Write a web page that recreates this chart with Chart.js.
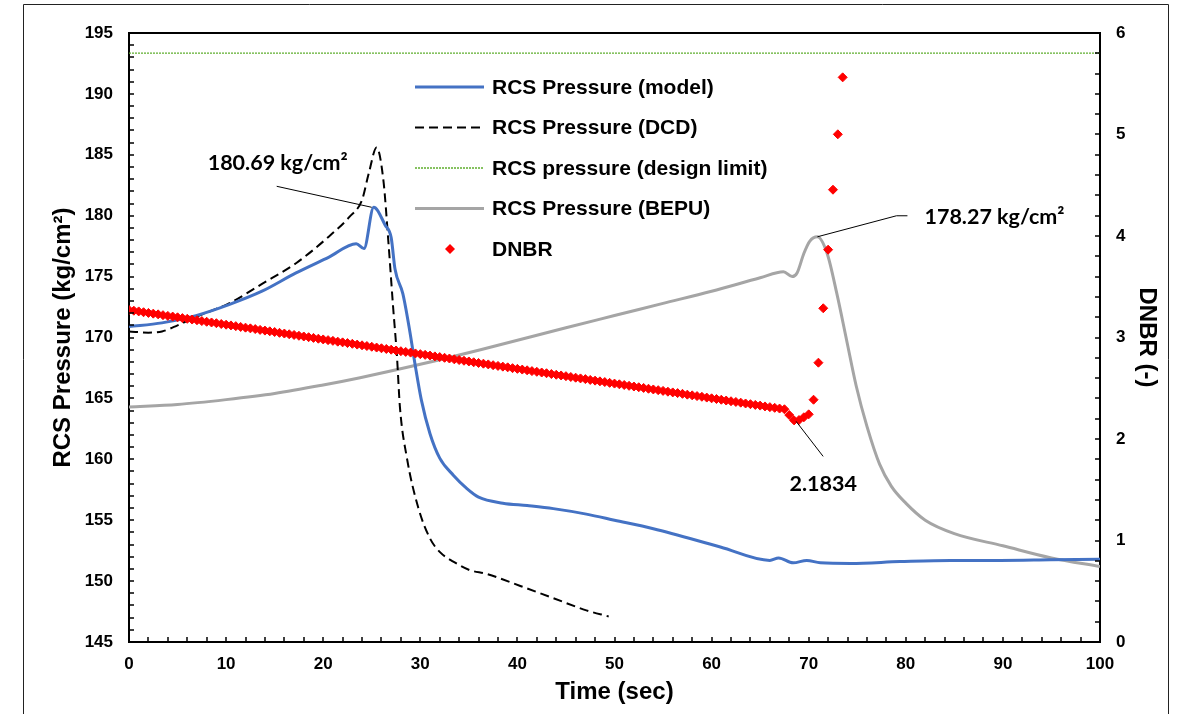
<!DOCTYPE html>
<html>
<head>
<meta charset="utf-8">
<script src="https://cdn.jsdelivr.net/npm/chart.js@4.4.1/dist/chart.umd.min.js"></script>
<style>
  html, body { margin: 0; padding: 0; background: #fff; }
  #wrap { position: relative; width: 1178px; height: 714px; }
</style>
</head>
<body>
<div id="wrap"><canvas id="myChart"></canvas></div>
<script>
// RCS pressure, model
const modelTime = [0, 3.4, 6.9, 10.3, 13.7, 17.2, 20.6, 23.4, 24.2, 25.2, 26.4, 27.0, 27.4, 28.2, 28.9, 29.5, 30.1, 31.0, 32.0, 33.4, 34.8, 36.0, 38.5, 41.0, 43.7, 47.1, 50.0, 54.0, 60.9, 66.0, 66.9, 68.4, 69.8, 71.2, 74.3, 79.4, 84.6, 89.7, 94.9, 100];
const modelPressure = [170.9, 171.2, 171.8, 172.7, 173.8, 175.3, 176.6, 177.7, 177.3, 180.69, 179.2, 178.2, 175.6, 173.6, 170.6, 167.6, 164.9, 162.1, 160.1, 158.7, 157.6, 156.9, 156.4, 156.2, 155.95, 155.5, 155.0, 154.3, 152.8, 151.7, 151.9, 151.5, 151.7, 151.5, 151.45, 151.6, 151.7, 151.7, 151.75, 151.8];

// RCS pressure, DCD
const dcdTime = [0, 2, 3.4, 5, 6.9, 10.3, 13.7, 17.2, 20.6, 22.7, 24.0, 24.7, 25.5, 26.2, 26.7, 27.2, 27.6, 27.9, 28.6, 29.8, 31.0, 32.0, 33.4, 35.1, 36.8, 40.3, 43.7, 47.1, 49.4];
const dcdPressure = [170.5, 170.4, 170.5, 171.0, 171.7, 172.8, 174.4, 176.1, 178.3, 179.9, 181.3, 183.5, 185.6, 182.9, 178.0, 172.5, 168.4, 164.3, 160.2, 156.0, 153.5, 152.4, 151.6, 150.9, 150.6, 149.6, 148.6, 147.6, 147.1];

// design limit
const limitTime = [0, 100];
const limitPressure = [193.35, 193.35];

// RCS pressure, BEPU
const bepuTime = [0, 5, 10, 15, 20, 23.8, 30, 36.2, 45, 50, 55, 60, 65, 67.4, 68.3, 68.8, 69.5, 70.1, 70.9, 71.9, 72.9, 73.9, 74.9, 76.0, 77.3, 78.5, 80, 82, 85, 90, 95, 100];
const bepuPressure = [164.3, 164.5, 164.9, 165.4, 166.1, 166.7, 167.8, 169.0, 170.8, 171.8, 172.8, 173.8, 174.9, 175.4, 175.0, 175.3, 176.9, 177.9, 178.27, 176.9, 173.6, 169.8, 166.0, 162.7, 159.6, 157.8, 156.4, 155.0, 153.9, 152.9, 151.9, 151.2];

// DNBR
const dnbrTime = [
  0, 0.5, 1, 1.5, 2, 2.5, 3, 3.5, 4, 4.5,
  5, 5.5, 6, 6.5, 7, 7.5, 8, 8.5, 9, 9.5,
  10, 10.5, 11, 11.5, 12, 12.5, 13, 13.5, 14, 14.5,
  15, 15.5, 16, 16.5, 17, 17.5, 18, 18.5, 19, 19.5,
  20, 20.5, 21, 21.5, 22, 22.5, 23, 23.5, 24, 24.5,
  25, 25.5, 26, 26.5, 27, 27.5, 28, 28.5, 29, 29.5,
  30, 30.5, 31, 31.5, 32, 32.5, 33, 33.5, 34, 34.5,
  35, 35.5, 36, 36.5, 37, 37.5, 38, 38.5, 39, 39.5,
  40, 40.5, 41, 41.5, 42, 42.5, 43, 43.5, 44, 44.5,
  45, 45.5, 46, 46.5, 47, 47.5, 48, 48.5, 49, 49.5,
  50, 50.5, 51, 51.5, 52, 52.5, 53, 53.5, 54, 54.5,
  55, 55.5, 56, 56.5, 57, 57.5, 58, 58.5, 59, 59.5,
  60, 60.5, 61, 61.5, 62, 62.5, 63, 63.5, 64, 64.5,
  65, 65.5, 66, 66.5, 67, 67.5, 68, 68.5, 69, 69.5,
  70, 70.5, 71, 71.5, 72, 72.5, 73, 73.5
];
const dnbrValue = [
  3.271, 3.264, 3.257, 3.249, 3.242, 3.235, 3.228, 3.220, 3.213, 3.206,
  3.199, 3.191, 3.184, 3.177, 3.170, 3.162, 3.155, 3.148, 3.141, 3.133,
  3.126, 3.119, 3.112, 3.104, 3.097, 3.090, 3.083, 3.075, 3.068, 3.061,
  3.054, 3.046, 3.039, 3.032, 3.025, 3.017, 3.010, 3.003, 2.996, 2.988,
  2.981, 2.974, 2.967, 2.959, 2.952, 2.945, 2.938, 2.930, 2.923, 2.916,
  2.909, 2.901, 2.894, 2.887, 2.880, 2.872, 2.865, 2.858, 2.851, 2.843,
  2.836, 2.829, 2.822, 2.814, 2.807, 2.800, 2.793, 2.785, 2.778, 2.771,
  2.764, 2.756, 2.749, 2.742, 2.735, 2.727, 2.720, 2.713, 2.706, 2.698,
  2.691, 2.684, 2.677, 2.669, 2.662, 2.655, 2.648, 2.640, 2.633, 2.626,
  2.619, 2.611, 2.604, 2.597, 2.590, 2.582, 2.575, 2.568, 2.561, 2.553,
  2.546, 2.539, 2.532, 2.524, 2.517, 2.510, 2.503, 2.495, 2.488, 2.481,
  2.474, 2.466, 2.459, 2.452, 2.445, 2.437, 2.430, 2.423, 2.416, 2.408,
  2.401, 2.394, 2.387, 2.379, 2.372, 2.365, 2.358, 2.350, 2.343, 2.336,
  2.329, 2.321, 2.314, 2.307, 2.300, 2.293, 2.236, 2.1834, 2.187, 2.214,
  2.243, 2.387, 2.752, 3.288, 3.865, 4.456, 5.002, 5.563
];

// axis ticks
const timeTicks = [0, 10, 20, 30, 40, 50, 60, 70, 80, 90, 100];
const pressureTicks = [145, 150, 155, 160, 165, 170, 175, 180, 185, 190, 195];
const dnbrTicks = [0, 1, 2, 3, 4, 5, 6];

const FONT = "'Liberation Sans', Arial, sans-serif";
const NOTE_FONT = "bold 21.5px Lato, 'Open Sans', sans-serif";

function toPoints(xs, ys) {
  return xs.map((x, i) => ({ x: x, y: ys[i] }));
}

function peakOf(xs, ys, useMin) {
  const target = useMin ? Math.min(...ys) : Math.max(...ys);
  const i = ys.indexOf(target);
  return { x: xs[i], y: ys[i] };
}

// minor tick marks, inward, plus frame lines
const framePlugin = {
  id: "frame",
  afterDraw(chart) {
    const ctx = chart.ctx;
    const area = chart.chartArea;
    const { x, y, y2 } = chart.scales;
    ctx.save();
    ctx.strokeStyle = "#000";
    ctx.lineWidth = 1.5;
    ctx.beginPath();
    for (let v = pressureTicks[0]; v <= pressureTicks[pressureTicks.length - 1]; v += 1) {
      const py = Math.round(y.getPixelForValue(v));
      ctx.moveTo(area.left, py);
      ctx.lineTo(area.left + 5, py);
    }
    for (let v = 0; v <= 60; v += 2) {
      const py = Math.round(y2.getPixelForValue(v / 10));
      ctx.moveTo(area.right, py);
      ctx.lineTo(area.right - 5, py);
    }
    for (let v = 0; v <= 100; v += 2) {
      const px = Math.round(x.getPixelForValue(v));
      ctx.moveTo(px, area.bottom);
      ctx.lineTo(px, area.bottom - 5);
    }
    ctx.stroke();

    // top of plot box
    ctx.lineWidth = 2;
    ctx.beginPath();
    ctx.moveTo(area.left - 1, area.top);
    ctx.lineTo(area.right + 1, area.top);
    ctx.stroke();

    // outer frame
    ctx.lineWidth = 1;
    ctx.strokeStyle = "#222";
    ctx.beginPath();
    ctx.moveTo(23.5, 720);
    ctx.lineTo(23.5, 4.5);
    ctx.lineTo(1168.5, 4.5);
    ctx.lineTo(1168.5, 720);
    ctx.stroke();
    ctx.restore();
  },
};

// legend drawn inside the plot
const legendOrder = [1, 2, 4, 3, 0];
const legendPlugin = {
  id: "insideLegend",
  afterDraw(chart) {
    const ctx = chart.ctx;
    ctx.save();
    ctx.font = "bold 21px " + FONT;
    ctx.textBaseline = "middle";
    ctx.fillStyle = "#000";
    legendOrder.forEach((dsIndex, row) => {
      const ds = chart.data.datasets[dsIndex];
      const cy = 87 + row * 40.5;
      if (ds.showLine === false) {
        ctx.fillStyle = ds.pointBackgroundColor;
        ctx.beginPath();
        ctx.moveTo(450, cy - 5);
        ctx.lineTo(455, cy);
        ctx.lineTo(450, cy + 5);
        ctx.lineTo(445, cy);
        ctx.closePath();
        ctx.fill();
      } else {
        ctx.strokeStyle = ds.borderColor;
        ctx.lineWidth = ds.borderWidth;
        ctx.setLineDash(ds.borderDash || []);
        ctx.beginPath();
        ctx.moveTo(415, cy);
        ctx.lineTo(484, cy);
        ctx.stroke();
        ctx.setLineDash([]);
      }
      ctx.fillStyle = "#000";
      ctx.fillText(ds.label, 492, cy + 1);
    });
    ctx.restore();
  },
};

// value call-outs
const notePlugin = {
  id: "notes",
  afterDraw(chart) {
    const ctx = chart.ctx;
    const { x, y, y2 } = chart.scales;
    const p1 = peakOf(modelTime, modelPressure);
    const p2 = peakOf(bepuTime, bepuPressure);
    const p3 = peakOf(dnbrTime, dnbrValue, true);
    const a1 = { x: x.getPixelForValue(p1.x), y: y.getPixelForValue(p1.y) };
    const a2 = { x: x.getPixelForValue(p2.x), y: y.getPixelForValue(p2.y) };
    const a3 = { x: x.getPixelForValue(p3.x), y: y2.getPixelForValue(p3.y) };

    ctx.save();
    ctx.strokeStyle = "#000";
    ctx.lineWidth = 1;
    ctx.beginPath();
    ctx.moveTo(a1.x - 97, a1.y - 21);
    ctx.lineTo(a1.x - 2, a1.y);
    ctx.moveTo(a2.x, a2.y);
    ctx.lineTo(a2.x + 79, a2.y - 21);
    ctx.lineTo(a2.x + 90, a2.y - 21);
    ctx.moveTo(a3.x + 2, a3.y + 1);
    ctx.lineTo(a3.x + 29, a3.y + 36);
    ctx.stroke();

    ctx.font = NOTE_FONT;
    ctx.fillStyle = "#000";
    ctx.textBaseline = "middle";
    ctx.textAlign = "center";
    ctx.fillText("180.69 kg/cm\u00B2", a1.x - 96, a1.y - 44);
    ctx.fillText("2.1834", a3.x + 29, a3.y + 64);
    ctx.textAlign = "left";
    ctx.fillText("178.27 kg/cm\u00B2", a2.x + 107, a2.y - 20);
    ctx.restore();
  },
};

const ctx = document.getElementById("myChart").getContext("2d");

new Chart(ctx, {
  type: "line",
  data: {
    datasets: [
      {
        label: "DNBR",
        data: toPoints(dnbrTime, dnbrValue),
        yAxisID: "y2",
        showLine: false,
        pointStyle: "rectRot",
        pointRadius: 4.5,
        pointBorderWidth: 1,
        pointBackgroundColor: "#ff0000",
        pointBorderColor: "#ff0000",
        borderColor: "#ff0000",
        backgroundColor: "#ff0000",
        order: 0,
      },
      {
        label: "RCS Pressure (model)",
        data: toPoints(modelTime, modelPressure),
        yAxisID: "y",
        borderColor: "#4472C4",
        borderWidth: 3,
        pointRadius: 0,
        cubicInterpolationMode: "monotone",
        order: 1,
      },
      {
        label: "RCS Pressure (DCD)",
        data: toPoints(dcdTime, dcdPressure),
        yAxisID: "y",
        borderColor: "#000000",
        borderWidth: 2,
        borderDash: [9, 5],
        pointRadius: 0,
        cubicInterpolationMode: "monotone",
        order: 2,
      },
      {
        label: "RCS Pressure (BEPU)",
        data: toPoints(bepuTime, bepuPressure),
        yAxisID: "y",
        borderColor: "#A5A5A5",
        borderWidth: 3,
        pointRadius: 0,
        cubicInterpolationMode: "monotone",
        order: 3,
      },
      {
        label: "RCS pressure (design limit)",
        data: toPoints(limitTime, limitPressure),
        yAxisID: "y",
        borderColor: "#5FAE2E",
        borderWidth: 1.3,
        borderDash: [2, 1],
        pointRadius: 0,
        order: 4,
      },
    ],
  },
  options: {
    responsive: true,
    maintainAspectRatio: false,
    animation: false,
    layout: { padding: { top: 33, left: 0, right: 0, bottom: 0 } },
    plugins: {
      legend: { display: false },
      tooltip: { enabled: false },
    },
    scales: {
      x: {
        type: "linear",
        min: timeTicks[0],
        max: timeTicks[timeTicks.length - 1],
        afterFit: (scale) => { scale.height = 72; },
        afterBuildTicks: (scale) => { scale.ticks = timeTicks.map((v) => ({ value: v })); },
        grid: { display: false, drawTicks: false },
        border: { display: true, color: "#000", width: 2 },
        ticks: { color: "#000", padding: 12, font: { family: FONT, size: 17, weight: "bold" } },
        title: {
          display: true,
          text: "Time (sec)",
          color: "#000",
          padding: { top: 0, bottom: 7 },
          font: { family: FONT, size: 24, weight: "bold" },
        },
      },
      y: {
        type: "linear",
        position: "left",
        min: pressureTicks[0],
        max: pressureTicks[pressureTicks.length - 1],
        afterFit: (scale) => { scale.width = 129; },
        afterBuildTicks: (scale) => { scale.ticks = pressureTicks.map((v) => ({ value: v })); },
        grid: { display: false, drawTicks: false },
        border: { display: true, color: "#000", width: 2 },
        ticks: { color: "#000", padding: 16, font: { family: FONT, size: 17, weight: "bold" } },
        title: {
          display: true,
          text: "RCS Pressure (kg/cm\u00B2)",
          color: "#000",
          padding: { top: 49, bottom: 0 },
          font: { family: FONT, size: 24, weight: "bold" },
        },
      },
      y2: {
        type: "linear",
        position: "right",
        min: dnbrTicks[0],
        max: dnbrTicks[dnbrTicks.length - 1],
        afterFit: (scale) => { scale.width = 78; },
        afterBuildTicks: (scale) => { scale.ticks = dnbrTicks.map((v) => ({ value: v })); },
        grid: { display: false, drawTicks: false },
        border: { display: true, color: "#000", width: 2 },
        ticks: { color: "#000", padding: 16, font: { family: FONT, size: 17, weight: "bold" } },
        title: {
          display: true,
          text: "DNBR (-)",
          color: "#000",
          padding: { top: 17, bottom: 0 },
          font: { family: FONT, size: 24, weight: "bold" },
        },
      },
    },
  },
  plugins: [framePlugin, legendPlugin, notePlugin],
});
</script>
</body>
</html>
